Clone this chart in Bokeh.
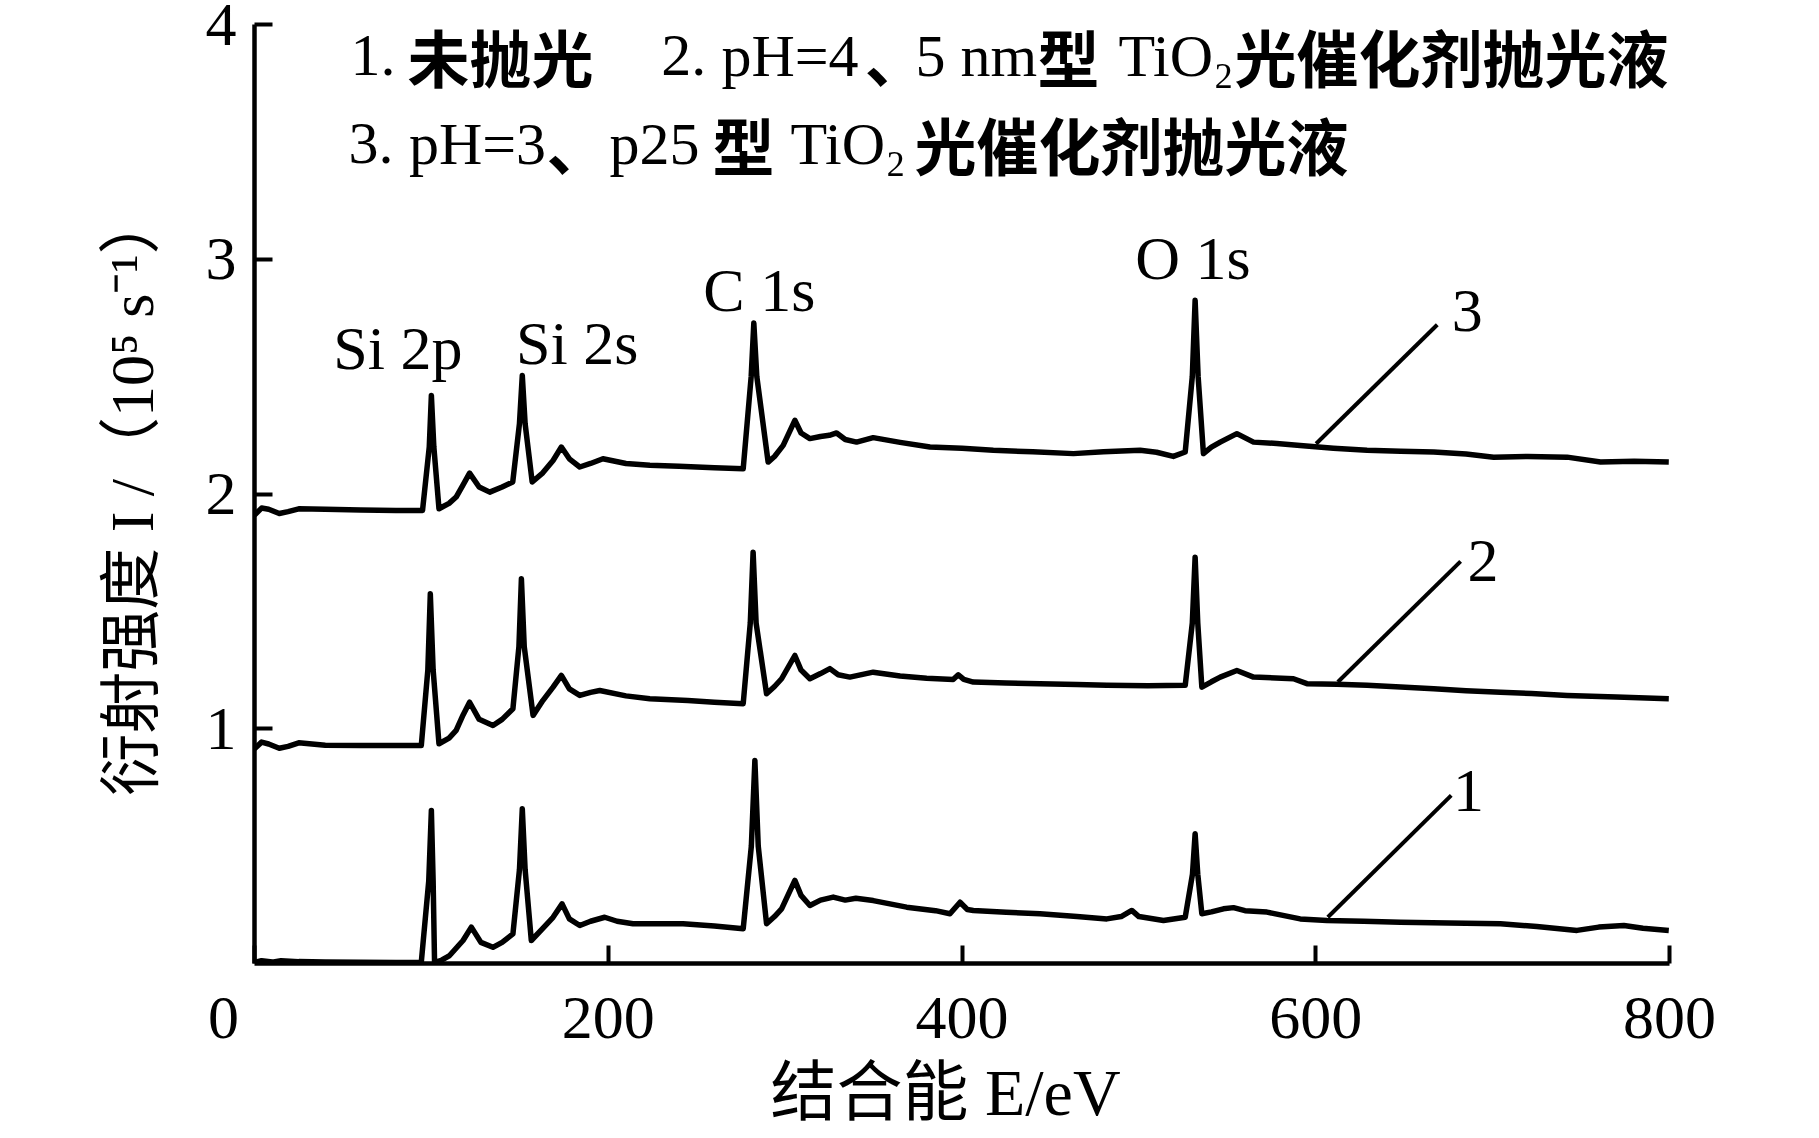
from bokeh.plotting import figure
from bokeh.models import Range1d, FixedTicker, Label
from bokeh.embed import file_html
from bokeh.resources import INLINE

# ---------------- data (binding energy in eV, intensity in 1e5 s^-1) ----------------
E3 = [0, 4, 8, 14, 19, 25, 40, 60, 80, 95, 98.8, 100, 101.4, 104.3, 110, 114, 118, 121.6,
      127, 133, 140, 146, 149.8, 151.4, 153, 157, 163, 168.8, 173.5, 178, 183.9, 190, 197,
      210, 223.5, 240, 260, 276.3, 280.8, 282.3, 284, 290.4, 294, 298.9, 305.5, 309, 314,
      320, 325, 329.1, 334, 340.4, 349.8, 365, 381.9, 400, 417.7, 440, 463, 480, 500.7, 510,
      519.5, 526.2, 530.2, 531.8, 533.5, 536.5, 541, 546, 555.4, 564.8, 578, 591.2, 610, 629,
      648, 666.7, 685, 700.6, 720, 742.1, 761, 780, 799.6]
I3 = [1.91, 1.94, 1.935, 1.917, 1.925, 1.937, 1.935, 1.932, 1.93, 1.93, 2.2, 2.42, 2.2, 1.937,
      1.96, 1.987, 2.04, 2.089, 2.03, 2.008, 2.03, 2.051, 2.3, 2.505, 2.3, 2.051, 2.09, 2.143,
      2.2, 2.15, 2.115, 2.13, 2.15, 2.13, 2.122, 2.118, 2.112, 2.108, 2.5, 2.728, 2.5, 2.136,
      2.16, 2.207, 2.314, 2.26, 2.236, 2.245, 2.25, 2.26, 2.232, 2.221, 2.24, 2.22, 2.2, 2.195,
      2.186, 2.18, 2.172, 2.18, 2.186, 2.178, 2.16, 2.179, 2.5, 2.825, 2.5, 2.172, 2.2, 2.221,
      2.257, 2.221, 2.215, 2.207, 2.195, 2.186, 2.182, 2.179, 2.17, 2.157, 2.16, 2.157, 2.136,
      2.14, 2.136]

E2 = [0, 4, 8, 14, 19, 25, 40, 60, 80, 94.3, 98, 99.4, 101, 104.3, 110, 114, 118, 121.6, 127,
      134.8, 140, 146.1, 149.5, 150.9, 152.5, 157.5, 163, 168.8, 173.5, 178, 183.9, 190, 195.2,
      210, 223.5, 245, 260, 276.3, 280.3, 281.9, 283.6, 289.5, 294, 298, 305.5, 309, 314, 320,
      325.3, 330, 336.6, 349.8, 365, 380, 395, 397.9, 401, 406.4, 425, 444.1, 465, 481.9, 505,
      526.2, 530.2, 531.8, 533.3, 535.6, 541, 546, 555.4, 564.8, 587.4, 595, 612, 629, 648,
      666.7, 685, 704.4, 722, 742.1, 770, 799.6]
I2 = [0.915, 0.943, 0.935, 0.917, 0.925, 0.94, 0.93, 0.929, 0.929, 0.929, 1.25, 1.575, 1.25,
      0.936, 0.96, 0.993, 1.06, 1.113, 1.04, 1.014, 1.04, 1.085, 1.35, 1.639, 1.35, 1.057, 1.12,
      1.177, 1.227, 1.17, 1.142, 1.155, 1.163, 1.14, 1.128, 1.12, 1.113, 1.107, 1.45, 1.752,
      1.45, 1.149, 1.18, 1.213, 1.312, 1.25, 1.213, 1.235, 1.256, 1.23, 1.22, 1.241, 1.225,
      1.215, 1.21, 1.23, 1.21, 1.199, 1.195, 1.192, 1.188, 1.185, 1.183, 1.185, 1.45, 1.731,
      1.45, 1.177, 1.2, 1.22, 1.248, 1.22, 1.213, 1.192, 1.19, 1.185, 1.178, 1.17, 1.162,
      1.156, 1.15, 1.142, 1.135, 1.128]

E1 = [0, 4, 10, 15, 25, 40, 60, 80, 94.3, 98.5, 100, 101, 101.8, 106, 110.3, 117.9, 122.6, 128,
      134.8, 140, 146.1, 149.8, 151.4, 153, 156.5, 163, 168.8, 173.9, 178, 183.9, 190, 198, 205,
      214, 242.3, 260, 276.3, 280.9, 282.9, 284.8, 289.5, 294, 298, 305.5, 309, 314, 320, 327.2,
      334, 340, 349.8, 368.7, 385, 393.2, 398.9, 403, 406.4, 425, 444.1, 465, 481.9, 490, 496,
      500, 513.9, 526.2, 530.3, 531.8, 533.3, 535.6, 541, 547.8, 553.5, 560, 572.4, 591.2,
      606.3, 627, 647.8, 675, 704.4, 725, 747.7, 760, 774.2, 785, 799.6]
I1 = [0.004, 0.012, 0.006, 0.012, 0.008, 0.006, 0.005, 0.004, 0.005, 0.35, 0.652, 0.35, 0.004,
      0.015, 0.034, 0.098, 0.155, 0.09, 0.069, 0.09, 0.126, 0.4, 0.659, 0.4, 0.098, 0.15, 0.197,
      0.254, 0.19, 0.162, 0.18, 0.197, 0.18, 0.169, 0.169, 0.16, 0.148, 0.5, 0.865, 0.5, 0.169,
      0.2, 0.233, 0.354, 0.29, 0.247, 0.27, 0.283, 0.27, 0.278, 0.268, 0.24, 0.225, 0.212, 0.261,
      0.23, 0.226, 0.218, 0.212, 0.2, 0.19, 0.2, 0.226, 0.2, 0.183, 0.197, 0.38, 0.553, 0.38,
      0.212, 0.22, 0.233, 0.238, 0.225, 0.219, 0.19, 0.183, 0.18, 0.176, 0.172, 0.169, 0.158,
      0.141, 0.155, 0.162, 0.15, 0.141]

X_TICKS = [0, 200, 400, 600, 800]
X_TICK_LABELS = {0: "0\u2003", 200: "200", 400: "400", 600: "600", 800: "800"}
Y_TICKS = [1, 2, 3, 4]
PEAK_NAMES = ["Si 2p", "Si 2s", "C 1s", "O 1s"]
CURVE_NAMES = ["1", "2", "3"]
X_TITLE = "结合能 E/eV\u2002"
Y_TITLE = "衍射强度 I /（10⁵ s⁻¹）"
# legend pieces: (text, is_cjk)
LEGEND_LINE1 = [("1.", False), ("未抛光", True), ("2.", False), ("pH=4", False), ("、", True),
                ("5 nm", False), ("型", True), ("TiO₂", False), ("光催化剂抛光液", True)]
LEGEND_LINE2 = [("3.", False), ("pH=3", False), ("、", True), ("p25", False), ("型", True),
                ("TiO₂", False), ("光催化剂抛光液", True)]

SERIF = "Liberation Serif"
CJK = "Noto Sans CJK SC"
MIXED = "Liberation Serif, Noto Sans CJK SC"
FS = "62px"
DY = 0.105  # baseline correction for Label text

p = figure(width=1819, height=1138, x_range=Range1d(0, 800), y_range=Range1d(0, 4),
           output_backend="svg", toolbar_location=None,
           min_border_left=254, min_border_right=150, min_border_top=24, min_border_bottom=175)
p.xgrid.visible = False
p.ygrid.visible = False
p.outline_line_color = None
p.background_fill_color = "white"

for ax in (p.xaxis[0], p.yaxis[0]):
    ax.axis_line_width = 4.5
    ax.axis_line_color = "black"
    ax.major_tick_line_width = 4
    ax.major_tick_line_color = "black"
    ax.major_tick_in = 18
    ax.major_tick_out = 0
    ax.minor_tick_line_color = None
    ax.major_label_text_font = SERIF
    ax.major_label_text_font_size = FS
    ax.major_label_text_color = "black"
    ax.axis_label_text_font = MIXED
    ax.axis_label_text_font_style = "normal"
    ax.axis_label_text_color = "black"
p.xaxis.ticker = FixedTicker(ticks=X_TICKS)
p.xaxis.major_label_overrides = X_TICK_LABELS
p.yaxis.ticker = FixedTicker(ticks=Y_TICKS)
p.xaxis.major_label_standoff = 19
p.yaxis.major_label_standoff = 18
p.xaxis.axis_label = X_TITLE
p.xaxis.axis_label_text_font_size = "66px"
p.xaxis.axis_label_standoff = 2
p.yaxis.axis_label = Y_TITLE
p.yaxis.axis_label_text_font_size = "62px"
p.yaxis.axis_label_standoff = 37

for E, I in ((E1, I1), (E2, I2), (E3, I3)):
    p.line(E, I, line_width=5.5, line_color="black", line_join="round")

# leader lines to the curve numbers
p.segment(x0=[606.8, 612.5, 600.2], y0=[0.197, 1.199, 2.214],
          x1=[676.6, 681.9, 668.7], y1=[0.716, 1.713, 2.721],
          line_width=4, line_color="black")


def lab(x, y, t, font=SERIF, size=FS, style="normal", align="left"):
    p.add_layout(Label(x=x, y=y + DY, text=t, text_font=font, text_font_size=size,
                       text_font_style=style, text_align=align, text_baseline="alphabetic",
                       text_color="black"))


# peak labels
for (x, y), t in zip([(81.1, 2.519), (182.4, 2.54), (285.4, 2.763), (530.6, 2.90)], PEAK_NAMES):
    lab(x, y, t, align="center")
# curve numbers
for (x, y), t in zip([(686.3, 0.63), (694.5, 1.61), (685.6, 2.675)], CURVE_NAMES):
    lab(x, y, t, align="center")

# legend text (Latin in serif, Chinese in bold sans)
X_LINE1 = [54.3, 86.5, 229.9, 264.0, 345.0, 373.7, 442.7, 488.5, 554.0]
X_LINE2 = [53.1, 87.3, 165.1, 200.7, 258.9, 303.0, 373.1]
for xs, pieces, yb in ((X_LINE1, LEGEND_LINE1, 3.761), (X_LINE2, LEGEND_LINE2, 3.387)):
    for x, (t, cjk) in zip(xs, pieces):
        if cjk:
            lab(x, yb, t, font=CJK, size="62px", style="bold")
        else:
            lab(x, yb, t, size="60px")

open("out.html", "w").write(file_html(p, INLINE))
